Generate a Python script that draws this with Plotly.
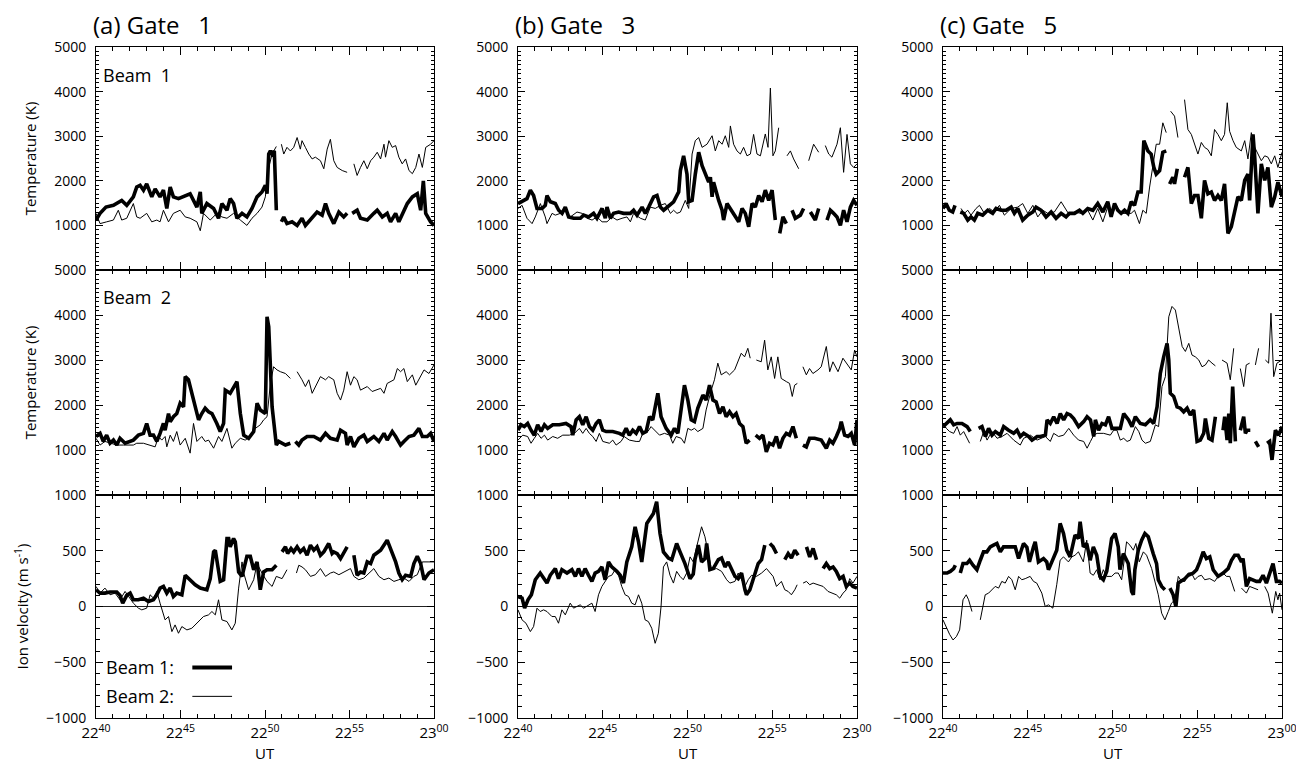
import plotly.graph_objects as go

# ---------------- data (time in minutes after 22:40 UT) ----------------
N = None
A1_BOLD_T = [0.00,0.24,0.59,1.03,1.52,1.82,2.21,2.41,2.61,2.81,3.00,3.30,3.50,3.79,3.99,4.19,4.39,4.58,4.88,5.18,5.57,5.97,6.17,6.26,6.56,6.96,7.25,7.45,7.75,7.94,8.14,8.34,8.64,8.93,9.23,9.53,9.82,10.02,10.12,10.22,10.32,10.42,10.55,10.67,N,
             10.97,11.11,11.30,11.60,11.90,12.19,12.39,12.79,13.08,13.38,13.58,13.77,14.07,14.37,14.66,14.86,N,
             15.16,15.45,15.65,16.05,16.44,16.64,16.94,17.23,17.43,17.73,17.92,18.22,18.42,18.72,19.01,19.21,19.37,19.51,19.80,20.00]
A1_BOLD_V = [1120,1270,1410,1450,1560,1450,1640,1860,1900,1790,1930,1640,1820,1640,1790,1380,1860,1640,1600,1640,1710,1410,1750,1270,1490,1380,1160,1490,1340,1600,1490,1160,1270,1190,1380,1640,1750,1900,1710,2600,2670,2600,2670,1340,N,
             1080,1190,1040,1080,1000,1160,1000,1160,1300,1230,1490,1270,1040,1300,1190,1270,N,
             1270,1340,1160,1120,1270,1340,1190,1270,1080,1270,1080,1340,1490,1640,1710,1340,2000,1270,1080,1000]
A1_THIN_T = [0.00,0.24,0.63,1.03,1.32,1.52,1.82,2.21,2.41,2.61,3.00,3.30,3.60,3.79,3.99,4.29,4.58,4.98,5.28,5.57,5.97,6.17,6.36,6.76,7.15,7.45,7.75,8.14,8.54,8.93,9.23,9.53,9.82,10.02,10.22,10.42,10.67,N,
             10.97,11.11,11.30,11.50,11.70,11.90,12.09,12.19,12.39,12.59,12.79,12.98,13.28,13.48,13.68,13.87,14.07,14.27,14.57,14.86,N,
             15.26,15.45,15.65,15.85,16.05,16.25,16.44,16.64,16.84,17.04,17.13,17.33,17.53,17.73,17.92,18.12,18.32,18.52,18.72,18.92,19.11,19.31,19.51,19.80,20.00]
A1_THIN_V = [1270,1040,1080,1120,1340,1120,1160,1490,1190,1160,1270,1080,1120,1080,1340,1080,1270,1340,1190,1160,1080,880,1270,1120,1270,1190,1160,1270,1120,1000,1160,1270,1410,1640,2300,2600,2770,N,
             2820,2600,2750,2670,2750,2970,2710,2900,2750,2600,2490,2530,2450,2270,2710,2930,2450,2300,2230,2190,N,
             2380,2120,2300,2450,2270,2450,2530,2640,2490,2820,2530,2900,2750,2790,2530,2380,2490,2230,2160,2300,2600,2300,2750,2820,2900]

A2_BOLD_T = [0.00,0.24,0.43,0.63,0.83,1.03,1.23,1.42,1.72,2.02,2.21,2.51,2.81,3.00,3.20,3.40,3.60,3.79,3.99,4.09,4.29,4.39,4.58,4.78,4.98,5.18,5.28,5.47,5.67,5.87,6.07,6.26,6.46,6.66,6.86,7.15,7.35,7.55,7.65,7.94,8.14,8.34,8.54,8.74,9.03,9.33,9.53,9.72,10.02,10.12,10.22,10.42,10.55,10.67,10.81,11.01,11.21,11.50,N,
             11.80,12.00,12.19,12.49,12.89,13.28,13.58,13.87,14.27,14.47,14.76,14.86,15.06,15.26,15.55,15.85,16.05,16.44,16.74,17.04,17.23,17.53,17.73,18.02,18.22,18.52,18.81,19.11,19.31,19.60,19.80,20.00]
A2_BOLD_V = [1300,1370,1190,1330,1150,1220,1110,1260,1150,1190,1220,1330,1370,1590,1330,1330,1190,1370,1590,1440,1810,1630,1740,1810,2040,1960,2630,2560,2260,2040,1670,1810,1930,1850,1810,1590,1410,1590,2330,2260,2410,2520,1810,1330,1260,1410,2040,1890,1810,3960,3740,1960,1520,1110,1190,1150,1110,1150,N,
             1190,1110,1220,1300,1300,1220,1370,1260,1220,1440,1370,1110,1300,1070,1260,1330,1190,1300,1190,1370,1220,1410,1300,1110,1190,1300,1330,1480,1300,1300,1370,1190]
A2_THIN_T = [0.00,0.24,0.53,0.83,1.23,1.62,2.21,2.41,2.81,3.50,3.70,3.89,4.09,4.19,4.39,4.58,4.78,4.98,5.28,5.57,5.77,5.97,6.26,6.46,6.66,6.96,7.25,7.45,7.75,8.04,8.24,8.54,8.83,9.13,9.43,9.72,9.92,10.12,10.32,10.51,10.71,10.91,11.21,11.50,N,
             11.90,12.09,12.19,12.39,12.59,12.79,12.98,13.28,13.58,13.77,14.07,14.27,14.47,14.66,14.86,15.06,15.26,15.45,15.65,15.85,16.05,16.34,16.54,16.84,17.04,17.23,17.63,17.83,18.02,18.22,18.42,18.72,18.92,19.21,19.41,19.70,20.00]
A2_THIN_V = [1260,1110,1190,1150,1110,1110,1110,1150,1150,1070,1300,1220,1300,1070,1330,1190,1410,1110,1260,930,1590,1190,1300,1190,1220,1040,1300,1190,1480,1040,1150,1260,1220,1300,1480,1560,1670,1740,2480,2850,2780,2740,2700,2590,N,
             2740,2630,2560,2410,2560,2260,2410,2630,2560,2630,2560,2260,2110,2330,2740,2440,2630,2560,2330,2370,2410,2300,2330,2370,2260,2480,2560,2810,2740,2810,2520,2670,2440,2630,2780,2700,2890]

A3_BOLD_T = [0.00,0.24,0.53,0.83,1.23,1.42,1.58,1.82,2.02,2.21,2.51,2.81,3.10,3.40,3.60,3.79,3.99,4.19,4.39,4.58,4.78,5.08,5.28,5.57,5.87,6.17,6.56,6.76,6.96,7.06,7.25,7.35,7.55,7.75,7.85,7.94,8.14,8.24,8.44,8.64,8.93,9.13,9.33,9.53,9.72,9.92,10.12,10.42,10.67,N,
             11.01,11.21,11.34,11.54,11.70,11.90,12.09,12.29,12.49,12.69,12.89,13.08,13.28,13.48,13.77,13.97,14.07,14.27,14.47,14.66,14.86,N,
             15.26,15.45,15.65,15.85,16.05,16.25,16.44,16.84,17.23,17.53,17.73,17.92,18.12,18.32,18.62,18.81,19.01,19.21,19.41,19.70,20.00]
A3_BOLD_V = [150,120,120,130,130,100,30,100,120,60,60,75,45,60,105,165,180,120,165,90,120,105,280,240,195,165,150,250,490,505,330,225,240,610,610,535,610,580,310,270,450,450,330,400,150,310,330,330,370,N,
             490,535,475,520,490,535,490,520,460,550,505,535,460,490,565,475,490,475,430,490,535,N,
             460,280,310,300,400,385,460,505,595,475,400,300,240,280,270,385,450,385,240,300,330]
A3_THIN_T = [0.00,0.24,0.53,0.83,1.13,1.42,1.72,1.92,2.21,2.51,2.71,3.00,3.20,3.40,3.60,3.79,3.95,4.09,4.29,4.49,4.68,4.88,5.08,5.38,5.67,5.87,6.17,6.36,6.66,6.86,7.06,7.25,7.45,7.75,8.04,8.24,8.44,8.64,8.74,9.03,9.33,9.53,9.82,10.12,10.42,10.67,11.01,11.30,N,
             11.86,12.00,12.19,12.39,12.69,12.98,13.28,13.58,13.87,14.07,14.37,14.66,15.06,15.26,15.55,15.85,16.14,16.44,16.74,17.04,17.33,17.63,17.92,18.22,18.52,18.81,19.01,19.31,19.70,20.00]
A3_THIN_V = [180,120,165,105,120,60,135,90,30,-15,-30,-15,105,75,135,30,-60,-120,-90,-225,-165,-240,-180,-210,-195,-165,-120,-90,-75,-45,-75,60,-120,-135,-210,-150,165,400,300,150,240,385,300,225,180,270,250,330,N,
             300,370,355,330,270,285,340,270,300,310,285,310,340,270,240,255,300,340,270,240,255,225,240,255,225,270,285,400,400,400]

B1_BOLD_T = [0.00,0.24,0.53,0.73,0.92,1.12,1.42,1.61,1.71,1.91,2.20,2.40,2.60,2.79,2.99,3.28,3.68,3.87,4.17,4.46,4.66,4.96,5.15,5.25,5.45,5.64,5.94,6.23,6.63,6.82,7.02,7.32,7.51,7.71,8.00,8.20,8.40,8.59,8.89,9.18,9.48,9.58,9.77,9.97,10.07,10.27,10.46,10.66,10.86,11.05,11.25,11.35,11.45,11.54,11.70,11.84,12.04,12.13,12.33,12.63,12.82,13.02,13.22,13.41,13.61,13.81,14.00,14.20,14.40,14.59,14.79,14.99,15.18,N,
             15.44,15.63,15.83,N,16.17,16.36,16.66,16.85,N,17.25,17.54,17.74,N,
             18.23,18.43,18.62,18.82,19.02,19.21,19.41,19.61,19.80,20.00]
B1_BOLD_V = [1490,1530,1600,1790,1670,1380,1380,1450,1670,1530,1490,1340,1270,1410,1190,1160,1160,1230,1190,1270,1160,1380,1160,1410,1160,1270,1300,1270,1270,1340,1230,1410,1270,1410,1640,1670,1410,1340,1450,1530,1750,2230,2560,2150,1530,1560,2150,2640,2340,2150,1970,2080,1640,1970,1710,1560,1340,1120,1490,1300,1190,1080,1380,1270,970,1490,1410,1670,1530,1790,1560,1790,1120,N,
             820,1190,1040,N,1340,1160,1230,1380,N,1300,1120,1380,N,
             1120,1340,1270,1190,1000,1340,1080,1410,1560,1450]
B1_THIN_T = [0.00,0.24,0.53,0.83,1.02,1.32,1.61,1.71,2.01,2.20,2.50,2.79,3.09,3.48,3.78,4.07,4.37,4.66,4.96,5.25,5.55,5.84,6.14,6.43,6.63,6.82,7.22,7.51,7.81,8.10,8.40,8.69,8.99,9.18,9.38,9.58,9.87,10.07,10.27,10.46,10.66,10.86,11.15,11.45,11.64,11.84,12.04,12.23,12.43,12.53,12.72,12.92,13.12,13.31,13.51,13.71,13.90,14.10,14.30,14.59,14.75,14.89,15.04,15.18,15.38,N,
             15.87,16.07,16.26,16.56,N,17.15,17.44,17.74,N,
             18.13,18.33,18.52,18.82,19.02,19.21,19.41,19.61,19.80,20.00]
B1_THIN_V = [1380,1450,1160,1040,1190,1490,1190,1040,1270,1230,1270,1340,1190,1300,1270,1160,1120,1190,1080,1080,1190,1120,1160,1190,1080,1270,1160,1120,1410,1380,1450,1490,1270,1340,1270,1300,1560,1380,2600,2900,2970,2750,2820,3010,2670,2900,2820,3010,2750,3230,2820,2670,2600,2750,2560,2600,3040,2600,2560,3050,2750,4080,2560,2670,3190,N,
             2560,2670,2490,2270,N,2450,2820,2640,N,
             2790,2600,2530,2820,3190,2190,3040,2380,2300,2380]

B2_BOLD_T = [0.00,0.18,0.37,0.57,0.77,0.96,1.16,1.36,1.56,1.75,2.05,2.44,2.83,3.13,3.23,3.43,3.62,3.82,4.02,4.21,4.41,4.61,4.80,5.00,5.20,5.59,5.98,6.18,6.38,6.57,6.77,6.97,7.17,7.36,7.56,7.76,7.95,8.25,8.44,8.74,9.04,9.23,9.43,9.63,9.82,10.02,10.22,10.41,10.61,10.91,11.10,11.30,11.50,11.69,11.89,12.09,12.28,12.48,12.68,12.87,13.07,13.27,13.46,13.66,N,
             14.02,14.25,14.45,14.65,14.84,15.04,15.24,15.43,15.63,15.83,16.02,16.22,16.42,N,
             16.81,17.01,17.20,17.50,17.89,18.19,18.39,18.58,18.78,18.98,19.07,19.27,19.47,19.66,19.86,20.00]
B2_BOLD_V = [1440,1560,1520,1590,1440,1330,1560,1410,1560,1480,1560,1560,1590,1520,1330,1670,1740,1560,1740,1520,1440,1590,1670,1440,1410,1410,1370,1330,1480,1330,1440,1370,1520,1370,1410,1740,1670,2260,1740,1480,1330,1480,1370,1890,2440,2110,1670,1630,1930,2220,2110,2440,2110,2070,1810,1960,1740,1850,1740,1810,1590,1520,1150,1220,N,
             1330,1260,1330,960,1150,1110,1300,1040,1260,1370,1330,1520,1260,N,
             1110,1070,1260,1260,1220,1040,1220,1150,1300,1480,1630,1330,1300,1370,1110,1670]
B2_THIN_T = [0.00,0.28,0.57,0.77,0.96,1.16,1.36,1.56,1.75,2.05,2.34,2.64,3.03,3.33,3.62,3.82,4.02,4.21,4.41,4.61,4.80,5.00,5.39,5.59,5.79,6.08,6.26,6.57,6.97,7.17,7.36,7.66,7.85,8.05,8.35,8.64,8.94,9.13,9.33,9.63,9.82,10.02,10.22,10.41,10.61,10.91,11.10,11.40,11.59,11.79,11.99,12.28,12.48,12.78,12.97,13.17,13.37,13.56,13.70,N,
             14.06,14.35,14.55,14.74,14.94,15.14,15.33,15.53,15.83,16.02,16.18,16.32,16.48,N,
             16.81,17.01,17.20,17.40,17.70,17.89,18.19,18.39,18.58,18.88,19.17,19.37,19.66,19.86,20.00]
B2_THIN_V = [1220,1330,1300,1150,1260,1370,1260,1330,1220,1300,1260,1330,1330,1370,1480,1370,1480,1370,1300,1190,1370,1190,1150,1220,1110,1190,1300,1220,1190,1190,1370,1410,1520,1440,1330,1370,1330,1150,1300,1260,1150,1480,1440,1480,1410,1480,1890,2330,2560,2930,2670,2740,2670,2780,2960,3150,3070,3260,3040,N,
             3000,2960,3440,2780,3070,2590,3070,2590,2520,2480,2190,2440,2480,N,
             2850,2670,2810,2700,2780,2850,3300,2740,2960,2740,3040,2930,2780,3220,3070]

B3_BOLD_T = [0.00,0.24,0.39,0.59,0.79,1.02,1.31,1.51,1.71,1.90,2.20,2.39,2.59,2.89,3.18,3.38,3.57,3.77,3.96,4.16,4.36,4.55,4.75,4.95,5.14,5.34,5.53,5.83,6.03,6.22,6.42,6.71,6.91,7.11,7.30,7.60,7.79,7.99,8.18,8.38,8.58,8.87,9.07,9.36,9.56,9.85,10.15,10.34,10.44,10.64,10.83,11.03,11.13,11.32,11.52,11.82,12.01,12.21,12.40,12.60,12.80,12.99,13.19,13.39,13.48,13.68,13.88,14.17,14.37,14.56,N,
             14.86,15.05,15.25,N,15.74,15.94,16.13,16.33,16.53,N,17.02,17.21,17.41,17.61,N,
             18.00,18.19,18.39,18.59,18.78,18.98,19.18,19.37,19.57,19.76,20.00]
B3_BOLD_V = [90,75,-15,60,105,240,300,250,210,280,340,250,330,300,330,270,340,270,340,280,225,300,315,355,240,400,355,315,280,210,400,535,715,580,400,745,790,835,940,655,490,435,420,565,490,385,250,290,420,550,400,430,565,330,340,420,435,355,400,330,270,250,300,150,105,150,250,385,420,550,N,
             565,535,475,N,420,475,435,505,460,N,535,445,520,420,N,
             340,385,340,355,315,250,270,180,210,180,165]
B3_THIN_T = [0.00,0.24,0.47,0.73,0.92,1.12,1.31,1.51,1.71,2.00,2.20,2.39,2.59,2.79,3.08,3.28,3.47,3.67,3.87,4.06,4.36,4.55,4.75,4.95,5.14,5.34,5.53,5.73,5.93,6.12,6.32,6.52,6.71,6.91,7.11,7.30,7.50,7.69,7.89,8.09,8.28,8.44,8.58,8.77,8.97,9.17,9.36,9.56,9.75,9.95,10.15,10.34,10.54,10.83,11.03,11.23,11.42,11.72,12.01,12.31,12.50,12.80,12.99,13.19,13.39,13.58,13.78,14.07,14.37,14.66,14.86,15.05,15.25,15.54,15.74,15.94,16.13,16.33,16.47,N,
             16.82,17.02,17.21,17.41,17.70,18.00,18.29,18.49,18.78,18.98,19.18,19.37,19.57,19.76,20.00]
B3_THIN_V = [-30,-120,-150,-225,-180,-15,-45,-30,-45,-90,-90,-150,-30,-75,30,-15,0,15,-15,0,30,-45,105,180,225,270,280,330,280,180,105,90,30,15,105,30,-120,-135,-195,-330,-240,0,355,400,280,210,315,270,240,300,445,400,535,715,625,460,330,340,315,240,210,225,300,240,180,240,280,270,300,340,300,270,180,225,150,135,105,150,195,N,
             210,225,195,210,195,180,135,120,105,75,120,150,250,210,270]

C1_BOLD_T = [0.00,0.18,0.37,0.57,0.71,N,
             1.02,1.22,1.46,1.65,1.85,2.05,2.34,2.64,2.93,3.13,3.43,3.72,4.02,4.21,4.41,4.70,5.00,5.30,5.49,5.79,6.08,6.38,6.67,6.97,7.26,7.46,7.76,8.05,8.25,8.54,8.84,9.13,9.43,9.72,9.92,10.12,10.31,10.51,10.71,10.91,11.10,11.30,11.50,11.69,11.85,12.09,12.28,12.44,12.58,12.78,12.97,13.17,N,
             13.37,13.56,13.66,13.82,N,
             14.25,14.45,14.65,14.84,15.04,15.24,15.43,15.63,15.83,16.02,16.22,16.42,16.61,16.81,17.01,17.20,17.40,17.60,17.80,17.99,18.09,18.29,18.39,18.58,18.78,18.98,19.17,19.37,19.57,19.76,20.00]
C1_BOLD_V = [1380,1490,1340,1300,1450,N,
             1300,1270,1120,1190,1120,1270,1230,1340,1270,1380,1340,1340,1410,1270,1380,1120,1230,1300,1410,1340,1190,1300,1160,1270,1190,1270,1270,1340,1270,1380,1340,1490,1300,1530,1190,1490,1340,1270,1340,1270,1530,1450,1750,1750,2900,2670,2600,2300,2150,2230,2640,2670,N,
             1930,2080,1930,2270,N,
             2080,2300,1490,1670,1670,1160,2010,1710,1750,1560,1670,1560,1930,820,970,1270,1640,1560,2010,2150,1560,3040,2530,1270,2380,2010,2300,1410,1640,1970,1640]
C1_THIN_T = [1.06,1.26,1.46,1.65,1.95,2.15,2.44,2.74,3.03,3.33,3.62,4.02,4.41,4.70,5.00,5.30,5.59,5.89,6.18,6.57,6.97,7.17,7.46,7.76,8.15,8.54,8.84,9.13,9.43,9.72,10.02,10.22,10.51,10.81,11.10,11.30,11.59,11.79,11.99,12.19,12.38,12.58,12.78,12.97,13.17,N,
             13.43,13.66,13.86,N,
             14.25,14.45,14.65,14.84,15.04,15.24,15.43,15.63,15.83,16.02,16.22,16.42,16.61,16.77,16.91,17.11,17.30,17.60,17.80,17.99,18.19,18.39,18.58,18.78,18.98,19.17,19.37,19.57,19.76,20.00]
C1_THIN_V = [1380,1270,1340,1230,1380,1450,1270,1380,1300,1450,1230,1380,1410,1490,1270,1450,1190,1340,1270,1300,1530,1410,1230,1300,1270,1340,1120,1380,1080,1410,1270,1450,1270,1270,1270,1340,1040,1340,1270,1860,2300,2820,2820,3300,3080,N,
             3560,3450,2970,N,
             3820,3150,3040,2820,2600,2860,2750,2700,2560,3150,3040,2900,3040,3750,3110,2900,2750,2670,2900,2490,3080,2750,2600,2450,2560,2530,2380,2560,2300,2640]

C2_BOLD_T = [0.00,0.24,0.43,0.63,0.83,1.12,1.42,1.61,N,
             2.10,2.30,2.50,2.69,2.89,3.09,3.38,3.58,3.87,4.17,4.37,4.56,4.76,5.05,5.25,5.55,5.74,6.04,6.14,6.33,6.53,6.73,6.92,7.12,7.32,7.51,7.71,8.00,8.30,8.50,8.70,8.89,8.99,9.18,9.38,9.58,9.77,9.97,10.16,10.46,10.66,10.95,11.15,11.35,11.64,11.94,12.23,12.43,12.63,12.82,13.02,13.22,13.32,13.41,13.61,13.81,14.00,14.20,14.40,14.59,14.79,14.99,15.18,15.38,15.48,15.68,15.87,16.07,N,
             16.52,16.62,16.76,16.86,16.95,17.09,17.25,N,17.54,17.74,17.84,17.94,18.13,N,18.43,18.62,N,
             19.12,19.27,19.41,19.61,19.80,20.00]
C2_BOLD_V = [1520,1590,1670,1560,1590,1590,1520,1410,N,
             1480,1520,1300,1480,1330,1410,1330,1520,1440,1370,1440,1300,1370,1300,1220,1300,1300,1330,1670,1590,1740,1590,1810,1670,1810,1780,1700,1520,1630,1740,1670,1300,1670,1440,1590,1560,1740,1480,1480,1480,1810,1670,1520,1740,1590,1560,1670,1590,1960,2700,3070,3370,3000,2260,2190,1960,1930,1850,1930,1780,1890,1190,1220,1370,1700,1260,1220,1740,N,
             1440,1740,1220,1810,1150,2410,1190,N,1440,1740,1370,1440,1440,N,1190,1070,N,
             1150,1190,780,1440,1330,1520]
C2_THIN_T = [0.00,0.20,0.39,0.63,0.83,1.02,1.22,1.42,1.57,N,
             2.20,2.40,2.60,2.89,3.19,3.48,3.78,4.17,4.56,4.76,5.15,5.55,6.04,6.33,6.53,6.82,7.12,7.42,7.71,8.00,8.30,8.50,8.70,8.89,9.09,9.48,9.87,10.07,10.26,10.46,10.66,10.86,11.05,11.35,11.55,11.74,11.94,12.23,12.53,12.72,12.92,13.12,13.32,13.51,13.71,13.91,14.11,14.30,14.50,14.69,14.89,15.09,15.28,15.48,15.67,15.87,16.07,N,
             16.46,16.76,16.95,17.15,N,17.54,17.74,17.89,18.09,N,18.43,18.62,N,
             19.02,19.21,19.35,19.51,19.70,20.00]
C2_THIN_V = [1590,1480,1410,1370,1520,1330,1410,1260,1150,N,
             1190,1410,1220,1410,1260,1300,1370,1220,1110,1260,1330,1220,1300,1190,1370,1300,1330,1480,1330,1220,1190,1040,1190,1330,1370,1370,1330,1440,1440,1220,1260,1190,1220,1520,1410,1220,1150,1190,1560,1520,2410,2630,3960,4190,4110,3740,3300,3190,3370,3110,3070,3000,2850,2890,3000,2930,2870,N,
             3000,2930,2560,3260,N,2810,2410,2890,2930,N,2890,3260,N,
             3000,2930,4040,2630,2930,3000]

C3_BOLD_T = [0.00,0.24,0.43,0.63,0.73,N,
             1.02,1.18,1.41,1.57,1.77,2.00,2.20,2.39,2.59,2.79,2.98,3.18,3.38,3.57,3.96,4.26,4.46,4.65,4.75,4.95,5.10,5.34,5.44,5.63,5.93,6.12,6.22,6.42,6.71,6.91,7.11,7.30,7.50,7.79,7.99,8.09,8.28,8.48,8.68,8.87,9.07,9.26,9.46,9.66,9.95,10.15,10.34,10.44,10.64,10.93,11.13,11.23,11.32,11.52,11.72,11.91,12.11,12.40,12.60,12.70,12.90,13.09,N,
             13.39,13.58,13.74,13.88,14.27,14.46,14.76,14.96,15.15,15.35,15.54,15.74,15.94,16.23,16.53,16.82,17.02,17.21,17.41,17.61,17.70,17.90,18.09,18.29,18.49,18.68,18.88,19.08,19.27,19.47,19.67,19.86,20.00]
C3_BOLD_V = [300,300,315,340,370,N,
             300,385,385,415,370,330,415,490,490,535,550,565,490,535,535,535,430,505,565,530,400,535,580,400,430,400,330,400,505,745,655,505,445,640,610,760,535,565,415,535,460,270,240,315,610,655,535,330,475,385,135,105,330,505,595,655,625,475,385,240,180,150,N,
             165,105,0,210,250,280,300,330,400,490,430,445,330,270,300,340,415,460,460,400,430,180,250,240,225,225,280,210,300,385,225,225,210]
C3_THIN_T = [0.00,0.20,0.39,0.59,0.79,0.98,1.18,1.37,1.51,1.71,N,
             2.20,2.36,2.49,2.69,2.89,3.08,3.28,3.47,3.67,3.87,4.06,4.26,4.46,4.65,4.85,5.14,5.34,5.53,5.83,6.03,6.22,6.48,6.71,6.91,7.11,7.40,7.60,7.79,7.99,8.28,8.48,8.68,8.87,9.07,9.26,9.46,9.66,9.95,10.15,10.34,10.54,10.83,11.03,11.23,11.38,11.58,11.82,12.01,12.31,12.50,12.70,12.90,13.09,13.29,13.48,13.68,13.88,14.07,14.27,14.46,14.66,14.86,15.05,15.25,15.44,15.74,16.03,16.23,16.53,16.72,16.92,17.21,N,
             17.61,17.90,18.09,18.29,18.59,N,
             18.98,19.18,19.43,19.63,19.76,19.86,20.00]
C3_THIN_V = [-120,-195,-250,-300,-270,-210,60,105,60,-45,N,
             -120,0,105,120,150,180,165,225,210,270,240,150,270,240,250,270,225,210,120,0,15,-15,195,415,445,400,445,460,490,400,595,300,280,330,240,330,270,270,300,300,240,580,550,505,565,400,490,460,340,225,105,-60,-120,-45,30,60,270,225,225,300,300,240,270,280,240,250,225,270,300,270,270,135,N,
             165,120,180,165,150,N,
             180,120,-60,135,60,120,-30]

# axis labels / texts
X_TICK_VALS = [0, 5, 10, 15, 20]
X_TICK_TEXT = ["22<sup>40</sup>", "22<sup>45</sup>", "22<sup>50</sup>", "22<sup>55</sup>", "23<sup>00</sup>"]
T_TICK_VALS = [1000, 2000, 3000, 4000, 5000]
V_TICK_VALS = [-1000, -500, 0, 500, 1000]
COL_TITLES = ["(a) Gate\u00a0\u00a0\u00a01", "(b) Gate\u00a0\u00a0\u00a03", "(c) Gate\u00a0\u00a0\u00a05"]

PANELS = [
    [(A1_BOLD_T, A1_BOLD_V, A1_THIN_T, A1_THIN_V), (B1_BOLD_T, B1_BOLD_V, B1_THIN_T, B1_THIN_V), (C1_BOLD_T, C1_BOLD_V, C1_THIN_T, C1_THIN_V)],
    [(A2_BOLD_T, A2_BOLD_V, A2_THIN_T, A2_THIN_V), (B2_BOLD_T, B2_BOLD_V, B2_THIN_T, B2_THIN_V), (C2_BOLD_T, C2_BOLD_V, C2_THIN_T, C2_THIN_V)],
    [(A3_BOLD_T, A3_BOLD_V, A3_THIN_T, A3_THIN_V), (B3_BOLD_T, B3_BOLD_V, B3_THIN_T, B3_THIN_V), (C3_BOLD_T, C3_BOLD_V, C3_THIN_T, C3_THIN_V)],
]

# ---------------- figure ----------------
# the page body has an 8 px default margin, so the figure is drawn 8 px smaller
OFF = 8
W, H = 1304 - OFF, 763 - OFF
MT = 47 - OFF
MB = H - (718 - OFF)
PH = H - MT - MB
FONT = "Open Sans"
XDOM = [[(96 - OFF) / W, (434 - OFF) / W], [(518 - OFF) / W, (857 - OFF) / W], [(943 - OFF) / W, (1282 - OFF) / W]]
YDOM = [[(718 - 270) / PH, 1.0], [(718 - 495) / PH, (718 - 270) / PH], [0.0, (718 - 495) / PH]]

fig = go.Figure()
layout = {}
for r in range(3):
    for c in range(3):
        i = r * 3 + c + 1
        xa = "x" if i == 1 else f"x{i}"
        ya = "y" if i == 1 else f"y{i}"
        bt, bv, tt, tv = PANELS[r][c]
        fig.add_trace(go.Scatter(x=tt, y=tv, xaxis=xa, yaxis=ya, mode="lines",
                                 line=dict(color="black", width=1), connectgaps=False,
                                 showlegend=False, hoverinfo="skip"))
        fig.add_trace(go.Scatter(x=bt, y=bv, xaxis=xa, yaxis=ya, mode="lines",
                                 line=dict(color="black", width=3.6), connectgaps=False,
                                 showlegend=False, hoverinfo="skip"))
        xkey = "xaxis" if i == 1 else f"xaxis{i}"
        ykey = "yaxis" if i == 1 else f"yaxis{i}"
        xd = dict(domain=XDOM[c], anchor=ya, range=[0, 20], tickvals=X_TICK_VALS,
                  ticktext=X_TICK_TEXT, showticklabels=(r == 2), ticks="inside", ticklen=8,
                  tickwidth=1, tickcolor="black",
                  minor=dict(dtick=1, tick0=0, ticks="inside", ticklen=4, tickcolor="black"),
                  showline=True, linecolor="black", linewidth=1, mirror="allticks",
                  showgrid=False, zeroline=False, automargin=False, ticklabelstandoff=1,
                  tickfont=dict(family=FONT, size=15, color="black"))
        layout[xkey] = xd
        if r < 2:
            yd = dict(range=[0, 5000], tickvals=T_TICK_VALS,
                      minor=dict(dtick=100, tick0=0, ticks="inside", ticklen=3, tickcolor="black"),
                      zeroline=False)
        else:
            yd = dict(range=[-1000, 1000], tickvals=V_TICK_VALS,
                      minor=dict(dtick=100, tick0=0, ticks="inside", ticklen=4, tickcolor="black"),
                      zeroline=True, zerolinecolor="#222", zerolinewidth=1)
        yd.update(domain=YDOM[r], anchor=xa, ticks="inside", ticklen=7, tickwidth=1,
                  tickcolor="black", showline=True, linecolor="black", linewidth=1,
                  mirror="allticks", showgrid=False, automargin=False, ticklabelstandoff=6,
                  tickfont=dict(family=FONT, size=14, color="black"))
        if c == 0:
            ttl = "Temperature (K)" if r < 2 else "Ion velocity (m s<sup>-1</sup>)"
            yd["title"] = dict(text=ttl, font=dict(family=FONT, size=15, color="black"), standoff=13)
        layout[ykey] = yd

annotations = []
for c in range(3):
    annotations.append(dict(text=COL_TITLES[c], xref="paper", yref="paper",
                            x=XDOM[c][0] - 5 / W, y=1 + (47 - 25) / PH, xanchor="left",
                            yanchor="middle", showarrow=False,
                            font=dict(family=FONT, size=24, color="black")))
    annotations.append(dict(text="UT", xref="paper", yref="paper",
                            x=(XDOM[c][0] + XDOM[c][1]) / 2, y=-(753 - 718) / PH, xanchor="center",
                            yanchor="middle", showarrow=False,
                            font=dict(family=FONT, size=15, color="black")))
annotations.append(dict(text="Beam\u00a0\u00a01", xref="x", yref="y", x=0.3, y=4370,
                        xanchor="left", yanchor="middle", showarrow=False,
                        font=dict(family=FONT, size=18, color="black")))
annotations.append(dict(text="Beam\u00a0\u00a02", xref="x4", yref="y4", x=0.3, y=4400,
                        xanchor="left", yanchor="middle", showarrow=False,
                        font=dict(family=FONT, size=18, color="black")))
annotations.append(dict(text="Beam 1:", xref="x7", yref="y7", x=0.5, y=-547,
                        xanchor="left", yanchor="middle", showarrow=False,
                        font=dict(family=FONT, size=18, color="black")))
annotations.append(dict(text="Beam 2:", xref="x7", yref="y7", x=0.5, y=-806,
                        xanchor="left", yanchor="middle", showarrow=False,
                        font=dict(family=FONT, size=18, color="black")))
shapes = [
    dict(type="line", xref="x7", yref="y7", x0=5.7, x1=8.05, y0=-547, y1=-547,
         line=dict(color="black", width=4)),
    dict(type="line", xref="x7", yref="y7", x0=5.7, x1=8.05, y0=-806, y1=-806,
         line=dict(color="black", width=1)),
]

fig.update_layout(width=W, height=H, margin=dict(l=0, r=0, t=MT, b=MB, autoexpand=False),
                  paper_bgcolor="white", plot_bgcolor="white", showlegend=False,
                  font=dict(family=FONT, size=14, color="black"),
                  annotations=annotations, shapes=shapes, **layout)

fig.write_html("out.html")
